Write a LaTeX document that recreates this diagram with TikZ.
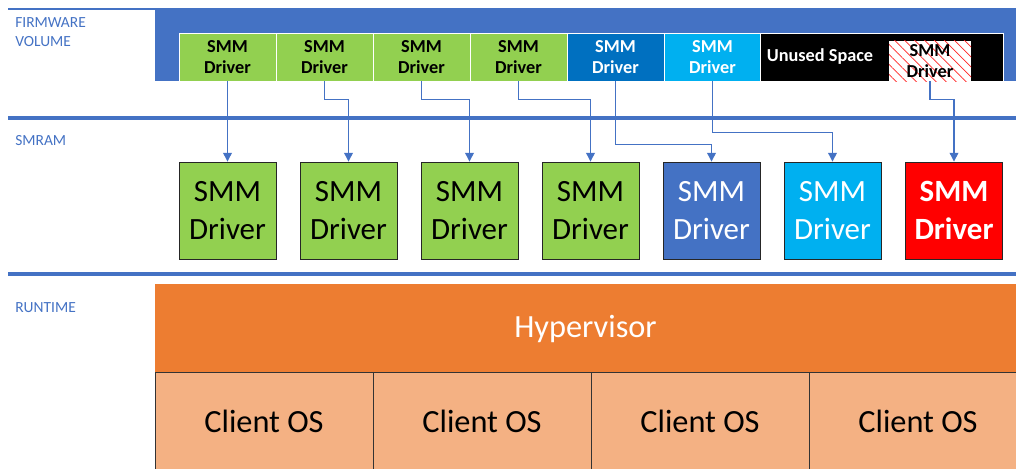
\documentclass[tikz,border=0pt]{standalone}
\usepackage{fontspec}
\setmainfont{Carlito}
\usepackage{tikz}
\usetikzlibrary{arrows.meta,positioning,patterns.meta}
\definecolor{msblue}{HTML}{4472C4}
\definecolor{fwgreen}{HTML}{92D050}
\definecolor{fwdarkblue}{HTML}{0070C0}
\definecolor{fwlightblue}{HTML}{00B0F0}
\definecolor{hvorange}{HTML}{ED7D31}
\definecolor{ospeach}{HTML}{F4B183}
\tikzset{
  % Base styles
  diagram base/.style={
    x=0.025cm, y=-0.025cm,
    >={Triangle[length=2.2mm,width=2.2mm]},
  },
  % Section labels and rules
  section label/.style={font=\fontsize{11}{13.5}\selectfont, text=msblue, inner sep=0pt, align=left, anchor=west},
  section rule/.style={msblue, line width=2.2pt},
  % Firmware volume cells
  fv cell/.style={rectangle, draw=white, line width=0.6pt, minimum width=2.425cm, minimum height=1.2cm, inner sep=0pt, align=center, font=\fontsize{13}{14.5}\selectfont\bfseries},
  % SMRAM drivers
  smram box/.style={rectangle, draw=black!85, line width=0.6pt, minimum size=2.425cm, inner sep=0pt, align=center, font=\fontsize{22}{27}\selectfont},
  % Runtime blocks
  run box/.style={rectangle, draw=black!80, line width=0.6pt, inner sep=0pt, font=\fontsize{23}{27}\selectfont},
  % Load edges
  load edge/.style={->, msblue, line width=0.8pt},
}

\begin{document}
\begin{tikzpicture}[diagram base]
\useasboundingbox (0,0) rectangle (1016,468);

% Section labels
\node[section label] (fwlabel) at (15,32) {FIRMWARE\\VOLUME};
\node[section label] (smramlabel) at (15,141) {SMRAM};
\node[section label] (runlabel) at (15,308) {RUNTIME};

% Section rules
\draw[section rule, line width=1.8pt] (8,9) -- (156,9);
\draw[section rule] (8,118) -- (1016,118);
\draw[section rule] (8,274) -- (1016,274);

% Firmware volume
\node[rectangle, fill=msblue, minimum width=21.525cm, minimum height=1.825cm, inner sep=0pt] (fvbox) at (585.5,44.5) {};
\node[fv cell, fill=fwgreen] (fv1) at (227.5,57) {SMM\\Driver};
\node[fv cell, fill=fwgreen] (fv2) at (324.5,57) {SMM\\Driver};
\node[fv cell, fill=fwgreen] (fv3) at (421.5,57) {SMM\\Driver};
\node[fv cell, fill=fwgreen] (fv4) at (518.5,57) {SMM\\Driver};
\node[fv cell, fill=fwdarkblue, text=white] (fv5) at (615.5,57) {SMM\\Driver};
\node[fv cell, fill=fwlightblue, text=white] (fv6) at (712.5,57) {SMM\\Driver};
\node[fv cell, fill=black, minimum width=6.075cm] (unused) at (882,57) {};
\node[font=\fontsize{13}{14.5}\selectfont\bfseries, text=white, inner sep=0pt] (unusedtxt) at (820,57) {Unused Space};
\node[fv cell, draw=none, minimum width=2.05cm, minimum height=1cm, preaction={fill=white},
  pattern={Lines[angle=-45,distance=5pt,line width=0.5pt]}, pattern color=red!85] (fvh) at (930,61) {SMM\\Driver};

% SMRAM drivers
\node[smram box, fill=fwgreen] (sm1) at (227.5,210.5) {SMM\\Driver};
\node[smram box, fill=fwgreen] (sm2) at (348.5,210.5) {SMM\\Driver};
\node[smram box, fill=fwgreen] (sm3) at (469.5,210.5) {SMM\\Driver};
\node[smram box, fill=fwgreen] (sm4) at (590.5,210.5) {SMM\\Driver};
\node[smram box, fill=msblue, text=white] (sm5) at (711.5,210.5) {SMM\\Driver};
\node[smram box, fill=fwlightblue, text=white] (sm6) at (832.5,210.5) {SMM\\Driver};
\node[smram box, fill=red, text=white, font=\fontsize{22}{27}\selectfont\bfseries] (sm7) at (954,210.5) {SMM\\Driver};

% Edges
\draw[load edge] (fv1.south) -- (sm1.north);
\draw[load edge] (fv2.south) -- ++(0,18) -| (sm2.north);
\draw[load edge] (fv3.south) -- ++(0,18) -| (sm3.north);
\draw[load edge] (fv4.south) -- ++(0,18) -| (sm4.north);
\draw[load edge] (fv5.south) -- ++(0,63) -| (sm5.north);
\draw[load edge] (fv6.south) -- ++(0,51) -| (sm6.north);
\draw[load edge] (fvh.south) -- ++(0,18) -| (sm7.north);

% Runtime
\node[run box, draw=none, fill=hvorange, text=white, minimum width=21.525cm, minimum height=2.225cm] (hyp) at (585.5,328.5) {Hypervisor};
\node[run box, fill=ospeach, minimum width=5.45cm, minimum height=2.45cm] (os1) at (264,421) {Client OS};
\node[run box, fill=ospeach, minimum width=5.45cm, minimum height=2.45cm] (os2) at (482,421) {Client OS};
\node[run box, fill=ospeach, minimum width=5.45cm, minimum height=2.45cm] (os3) at (700,421) {Client OS};
\node[run box, fill=ospeach, minimum width=5.45cm, minimum height=2.45cm] (os4) at (918,421) {Client OS};
\end{tikzpicture}
\end{document}
